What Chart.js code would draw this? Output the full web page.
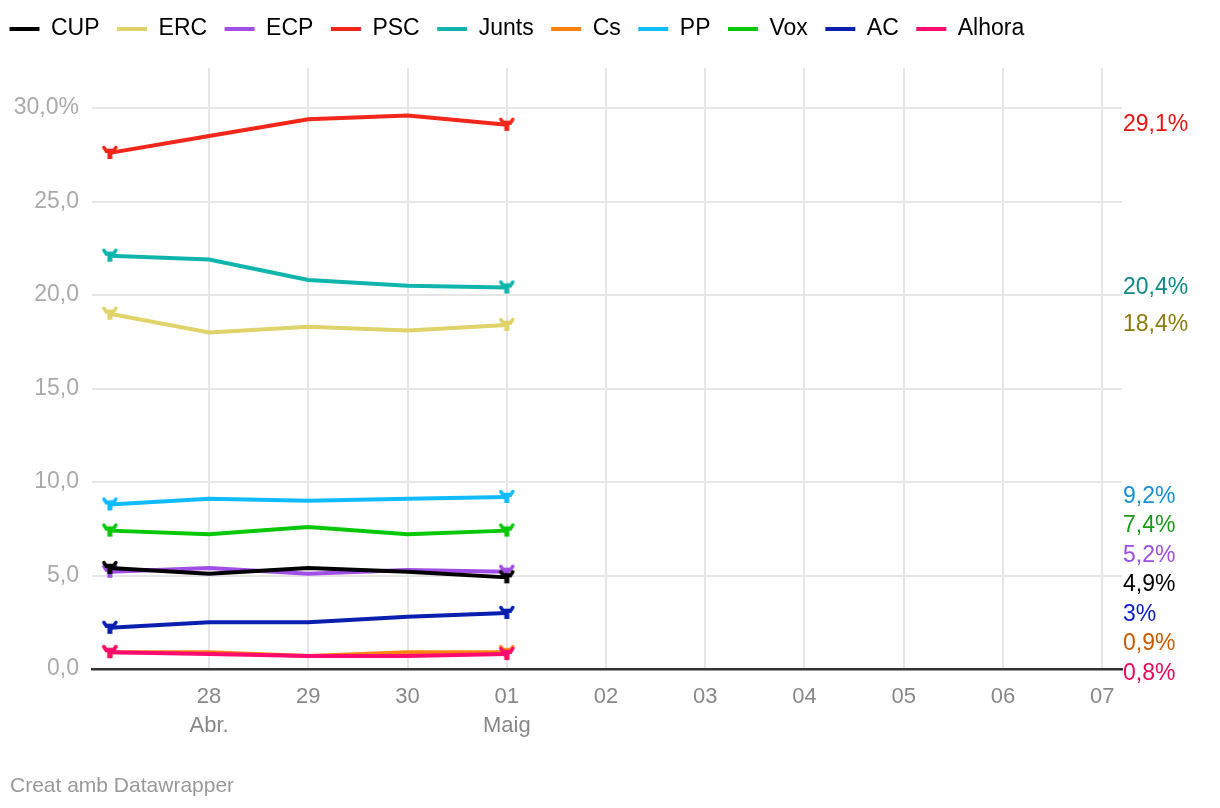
<!DOCTYPE html>
<html>
<head>
<meta charset="utf-8">
<script src="https://cdn.jsdelivr.net/npm/chart.js@4/dist/chart.umd.min.js"></script>
<style>
  html, body { margin: 0; padding: 0; background: #fff; }
  #wrap { position: relative; width: 1220px; height: 808px; }
  #footer { position: absolute; left: 10px; top: 773px; font: 21px 'Liberation Sans', Arial, Helvetica, sans-serif; color: #999; }
</style>
</head>
<body>
<div id="wrap">
  <canvas id="c" width="1220" height="808"></canvas>
  <div id="footer">Creat amb Datawrapper</div>
</div>
<script>
// ---- Data ----
const dayOffsets = [0, 1, 2, 3, 4];            // 27 Abr .. 01 Maig
const parties = ['CUP', 'ERC', 'ECP', 'PSC', 'Junts', 'Cs', 'PP', 'Vox', 'AC', 'Alhora'];
const CUP    = [5.4, 5.1, 5.4, 5.2, 4.9];
const ERC    = [19.0, 18.0, 18.3, 18.1, 18.4];
const ECP    = [5.2, 5.4, 5.1, 5.3, 5.2];
const PSC    = [27.6, 28.5, 29.4, 29.6, 29.1];
const Junts  = [22.1, 21.9, 20.8, 20.5, 20.4];
const Cs     = [0.9, 0.9, 0.7, 0.9, 0.9];
const PP     = [8.8, 9.1, 9.0, 9.1, 9.2];
const Vox    = [7.4, 7.2, 7.6, 7.2, 7.4];
const AC     = [2.2, 2.5, 2.5, 2.8, 3.0];
const Alhora = [0.9, 0.8, 0.7, 0.7, 0.8];
const seriesValues = [CUP, ERC, ECP, PSC, Junts, Cs, PP, Vox, AC, Alhora];
const drawOrder    = [0, 0, 0, 0, 0, 0, 0, 0, 0, -1];
const lineColors  = ['#000000', '#e0d36a', '#a04ee6', '#f2261a', '#0fb5ad', '#ff8210', '#10bbff', '#06c806', '#0a1eb0', '#ff0a6e'];
const labelColors = ['#000000', '#8a7c0b', '#9b4fe0', '#e8140f', '#0d8a85', '#c85a00', '#1a8fd0', '#1a9a1a', '#0a1ec8', '#e8055a'];
const xTickValues = [1, 2, 3, 4, 5, 6, 7, 8, 9, 10];
const xTickLabels = [['28', 'Abr.'], '29', '30', ['01', 'Maig'], '02', '03', '04', '05', '06', '07'];
const yTickValues = [0, 5, 10, 15, 20, 25, 30];

const FONT = "'Liberation Sans', Arial, Helvetica, sans-serif";
Chart.defaults.font.family = FONT;

function makeMarker(color) {
  const c = document.createElement('canvas');
  c.width = 20; c.height = 20;
  const g = c.getContext('2d');
  g.translate(10, 10);
  g.strokeStyle = color; g.fillStyle = color;
  g.lineWidth = 3.5; g.lineJoin = 'round'; g.lineCap = 'round';
  g.beginPath();
  g.moveTo(-6, -5.5); g.lineTo(-4, -2.5); g.lineTo(4, -2.5); g.lineTo(6, -5.5);
  g.stroke();
  g.fillRect(-5, -4, 10, 4);
  g.fillRect(-2.5, -1, 5, 7);
  return c;
}

function fmtPct(v) {
  let s = v.toFixed(1);
  if (s.endsWith('.0')) s = s.slice(0, -2);
  return s.replace('.', ',') + '%';
}

const datasets = parties.map((name, i) => {
  const vals = seriesValues[i];
  const marker = makeMarker(lineColors[i]);
  return {
    label: name,
    order: drawOrder[i],
    data: vals.map((v, j) => ({ x: dayOffsets[j], y: v })),
    borderColor: lineColors[i],
    backgroundColor: lineColors[i],
    borderWidth: 4,
    tension: 0,
    pointStyle: marker,
    pointRadius: vals.map((v, j) => (j === 0 || j === vals.length - 1) ? 6 : 0),
    pointHoverRadius: 0,
    clip: false
  };
});

const legendPatch = {
  id: 'legendPatch',
  beforeLayout(chart) {
    const lg = chart.legend;
    if (lg && !lg._patched) {
      const origFit = lg.fit;
      lg.fit = function () { origFit.call(this); this.height += 17.5; };
      const origDraw = lg.draw;
      lg.draw = function () {
        this.ctx.save();
        this.ctx.translate(-8, 0);
        origDraw.call(this);
        this.ctx.restore();
      };
      lg._patched = true;
    }
  }
};

const endLabels = {
  id: 'endLabels',
  afterDatasetsDraw(chart) {
    const ys = chart.scales.y;
    const area = chart.chartArea;
    const ctx = chart.ctx;
    const gap = 29.5;
    let items = chart.data.datasets.map((ds, i) => {
      const last = ds.data[ds.data.length - 1].y;
      return { text: fmtPct(last), color: labelColors[i], want: ys.getPixelForValue(last) };
    }).sort((a, b) => a.want - b.want);
    let groups = items.map(it => ({ items: [it] }));
    const place = g => {
      const mean = g.items.reduce((s, it) => s + it.want, 0) / g.items.length;
      g.top = mean - (g.items.length - 1) / 2 * gap;
      g.bottom = g.top + (g.items.length - 1) * gap;
    };
    groups.forEach(place);
    let changed = true;
    while (changed) {
      changed = false;
      for (let k = 0; k < groups.length - 1; k++) {
        if (groups[k + 1].top - groups[k].bottom < gap) {
          groups[k].items = groups[k].items.concat(groups[k + 1].items);
          groups.splice(k + 1, 1);
          place(groups[k]);
          changed = true;
          break;
        }
      }
    }
    ctx.save();
    ctx.font = '23px ' + FONT;
    ctx.textAlign = 'left';
    ctx.textBaseline = 'middle';
    groups.forEach(g => {
      g.items.forEach((it, k) => {
        ctx.fillStyle = it.color;
        ctx.fillText(it.text, area.right + 1, g.top + k * gap);
      });
    });
    ctx.restore();
  }
};

new Chart(document.getElementById('c'), {
  type: 'line',
  data: { datasets },
  plugins: [legendPatch, endLabels],
  options: {
    responsive: false,
    animation: false,
    events: [],
    layout: { padding: { top: 0, left: 0, right: 98, bottom: 0 } },
    plugins: {
      tooltip: { enabled: false },
      legend: {
        display: true,
        position: 'top',
        align: 'start',
        labels: {
          boxWidth: 30,
          boxHeight: 4,
          padding: 17.5,
          color: '#333',
          font: { size: 23 },
          generateLabels(chart) {
            return chart.data.datasets.map((ds, i) => ({
              text: ds.label,
              fillStyle: ds.borderColor,
              strokeStyle: ds.borderColor,
              lineWidth: 0,
              datasetIndex: i,
              hidden: false
            }));
          }
        }
      }
    },
    scales: {
      x: {
        type: 'linear',
        min: -0.18,
        max: 10.2,
        afterBuildTicks(scale) { scale.ticks = xTickValues.map(v => ({ value: v })); },
        afterFit(scale) { scale.height = 139; },
        grid: { color: '#e6e6e6', lineWidth: 2, drawTicks: false },
        border: { display: true, color: '#333', width: 2.5 },
        ticks: {
          padding: 14,
          maxRotation: 0,
          autoSkip: false,
          color: '#888',
          font: { size: 22, lineHeight: 1.3 },
          callback(value) {
            const idx = xTickValues.indexOf(value);
            return idx >= 0 ? xTickLabels[idx] : '';
          }
        }
      },
      y: {
        min: 0,
        max: 32.14,
        afterBuildTicks(scale) { scale.ticks = yTickValues.map(v => ({ value: v })); },
        afterFit(scale) { scale.width = 92; },
        grid: { color: '#e6e6e6', lineWidth: 2, drawTicks: false },
        border: { display: false },
        ticks: {
          padding: 13,
          color: '#aaa',
          font: { size: 23 },
          callback(value) {
            const s = value.toFixed(1).replace('.', ',');
            return value === 30 ? s + '%' : s;
          }
        }
      }
    }
  }
});
</script>
</body>
</html>
